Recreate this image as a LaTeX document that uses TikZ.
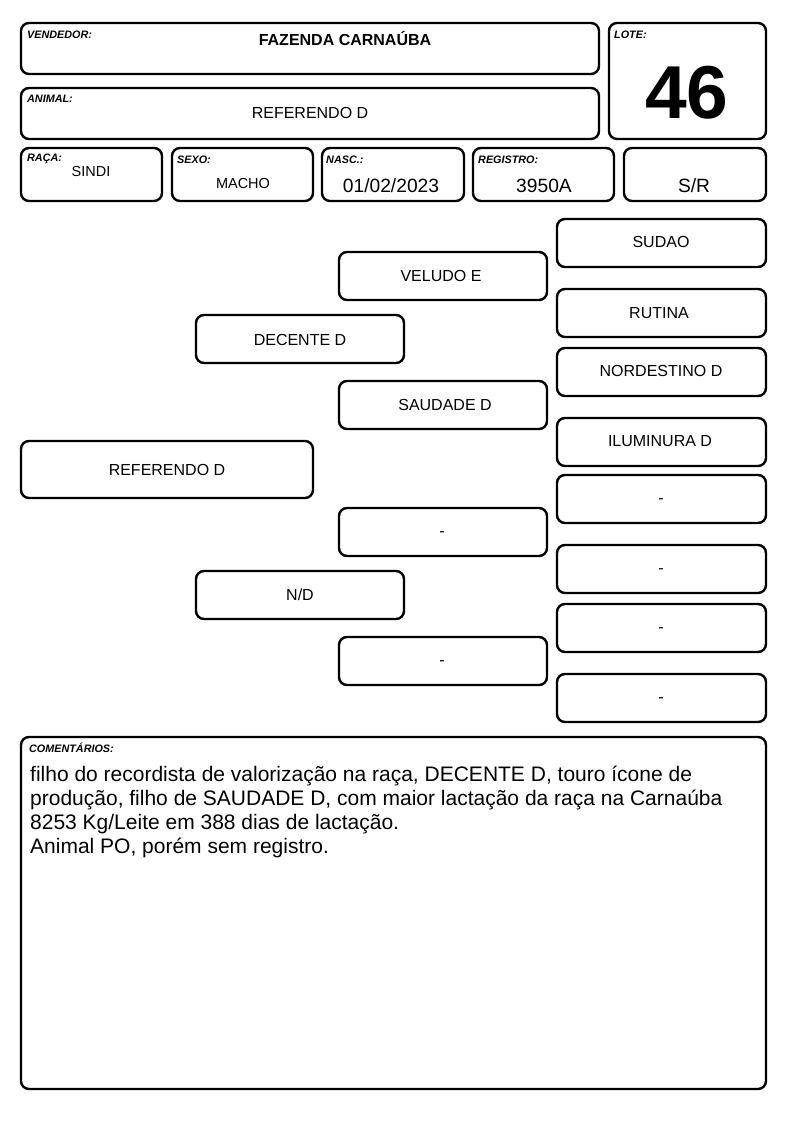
\documentclass[tikz,border=0pt]{standalone}
\usepackage{fontspec}
\setmainfont{Liberation Sans}
\begin{document}
\begin{tikzpicture}[x=1pt,y=-1pt,
  card/.style={draw=black,line width=2.4pt,rounded corners=8pt},
  lbl/.style={anchor=west,font=\fontsize{10.8}{12}\selectfont\bfseries\itshape,inner sep=0pt},
  val/.style={font=\fontsize{16}{18}\selectfont,inner sep=0pt},
  big/.style={font=\fontsize{19.2}{22}\selectfont,inner sep=0pt},
  ped/.style={font=\fontsize{16}{18}\selectfont,inner sep=0pt}]
\useasboundingbox (0,0) rectangle (794,1123);
% header
\draw[card] (21,23) rectangle (599,74);
\node[lbl] (lv) at (27,35) {VENDEDOR:};
\node[val,font=\fontsize{16}{18}\selectfont\bfseries] (vv) at (345,38) {FAZENDA CARNAÚBA};
\draw[card] (21,88) rectangle (599,139);
\node[lbl] (la) at (27,99) {ANIMAL:};
\node[val] (va) at (310,113) {REFERENDO D};
\draw[card] (609,23) rectangle (766,139);
\node[lbl] (ll) at (614,35) {LOTE:};
\node[inner sep=0pt,font=\fontsize{75}{80}\selectfont\bfseries] (vl) at (687,93) {46};
\draw[card] (21,148) rectangle (162,201);
\node[lbl] (lr) at (27,159) {RAÇA:};
\node[val,font=\fontsize{14.5}{16}\selectfont] (vr) at (91,172) {SINDI};
\draw[card] (172,148) rectangle (313,201);
\node[lbl] (ls) at (177,160) {SEXO:};
\node[val,font=\fontsize{14.5}{16}\selectfont] (vs) at (243,184) {MACHO};
\draw[card] (322,148) rectangle (464,201);
\node[lbl] (ln) at (326,160) {NASC.:};
\node[big] (vn) at (391,186) {01/02/2023};
\draw[card] (473,148) rectangle (614,201);
\node[lbl] (lg) at (478,160) {REGISTRO:};
\node[big] (vg) at (544,186) {3950A};
\draw[card] (624,148) rectangle (766,201);
\node[big] (vsr) at (694,186) {S/R};
% pedigree
\draw[card] (21,441) rectangle (313,498);
\node[ped] (p0) at (167,470) {REFERENDO D};
\draw[card] (196,315) rectangle (404,363);
\node[ped] (p1) at (300,340) {DECENTE D};
\draw[card] (196,571) rectangle (404,619);
\node[ped] (p2) at (300,595) {N/D};
\draw[card] (339,252) rectangle (547,300);
\node[ped] (p3) at (441,276) {VELUDO E};
\draw[card] (339,381) rectangle (547,429);
\node[ped] (p4) at (445,405) {SAUDADE D};
\draw[card] (339,508) rectangle (547,556);
\node[ped] (p5) at (442,534) {-};
\draw[card] (339,637) rectangle (547,685);
\node[ped] (p6) at (442,663) {-};
\draw[card] (557,219) rectangle (766,267);
\node[ped] (p7) at (661,242) {SUDAO};
\draw[card] (557,289) rectangle (766,337);
\node[ped] (p8) at (659,313) {RUTINA};
\draw[card] (557,348) rectangle (766,396);
\node[ped] (p9) at (661,371) {NORDESTINO D};
\draw[card] (557,418) rectangle (766,466);
\node[ped] (p10) at (660,441) {ILUMINURA D};
\draw[card] (557,475) rectangle (766,523);
\node[ped] (p11) at (661,501) {-};
\draw[card] (557,545) rectangle (766,593);
\node[ped] (p12) at (661,571) {-};
\draw[card] (557,604) rectangle (766,652);
\node[ped] (p13) at (661,630) {-};
\draw[card] (557,674) rectangle (766,722);
\node[ped] (p14) at (661,700) {-};
% comments
\draw[card] (21,737) rectangle (766,1089);
\node[lbl] (lc) at (29,748) {COMENTÁRIOS:};
\node[anchor=north west,inner sep=0pt,align=left,font=\fontsize{21}{24}\selectfont] (vc) at (30,766)
{filho do recordista de valorização na raça, DECENTE D, touro ícone de\\
produção, filho de SAUDADE D, com maior lactação da raça na Carnaúba\\
8253 Kg/Leite em 388 dias de lactação.\\
Animal PO, porém sem registro.};
\end{tikzpicture}
\end{document}
